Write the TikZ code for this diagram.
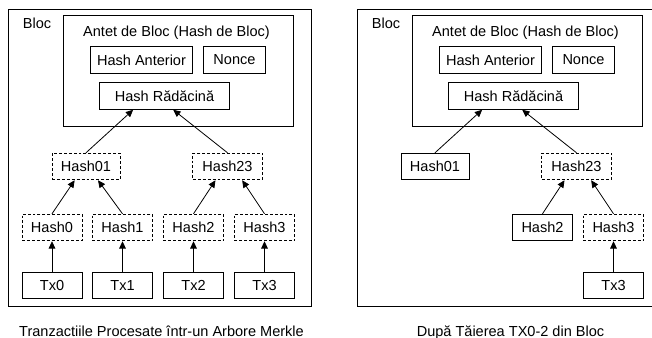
\documentclass[tikz,border=0pt]{standalone}
\usepackage{fontspec}
\setmainfont{Liberation Sans}
\usetikzlibrary{arrows.meta}

\tikzset{
    box/.style={draw,minimum height=20pt,inner sep=0pt,line width=0.6pt},
    dbox/.style={box,dash pattern=on 2.2pt off 1.5pt},
    txt/.style={inner sep=0pt},
    link/.style={-{Triangle[length=5.5pt,width=5pt]},line width=0.6pt}
}

\begin{document}
\begin{tikzpicture}[x=0.75pt,y=-0.75pt,font=\fontsize{10.9}{13}\selectfont]
    \clip (0,0) rectangle (652,337);
    % left: block with the whole Merkle tree
    \node[box,minimum width=227.25pt,minimum height=222.75pt] (blocA) at (159.5,157.5) {};
    \node[txt,anchor=west] (lblA) at (22.7,23.5) {Bloc};
    \node[box,minimum width=172.5pt,minimum height=83.25pt] (antetA) at (178,70.5) {};
    \node[txt] (titluA) at (176.5,33) {Antet de Bloc (Hash de Bloc)};
    \node[box,minimum width=77pt] (antA) at (141.5,60) {Hash Anterior};
    \node[box,minimum width=46pt] (nonceA) at (234.5,60) {Nonce};
    \node[box,minimum width=98pt] (radA) at (164.5,96) {Hash Rădăcină};
    \node[dbox,minimum width=51pt] (h01A) at (86,166.5) {Hash01};
    \node[dbox,minimum width=52pt] (h23A) at (227.5,166.5) {Hash23};
    \foreach \i/\x in {0/52,1/122.5,2/193.5,3/264.5} {
        \node[dbox,minimum width=45pt] (hA\i) at (\x,227.5) {Hash\i};
        \node[box,minimum width=45pt] (txA\i) at (\x,285.5) {Tx\i};
        \draw[link] (txA\i) -- (hA\i); % tx -> its hash
    }
    \draw[link] (h01A.north) -- ([xshift=-23.5pt]radA.south);
    \draw[link] (h23A.north) -- ([xshift=6.5pt]radA.south);
    \draw[link] (hA0.north) -- ([xshift=-8.5pt]h01A.south);
    \draw[link] (hA1.north) -- ([xshift=9pt]h01A.south);
    \draw[link] (hA2.north) -- ([xshift=-9pt]h23A.south);
    \draw[link] (hA3.north) -- ([xshift=11pt]h23A.south);
    \node[txt,anchor=base] (capA) at (161.5,336) {Tranzactiile Procesate într-un Arbore Merkle};

    % right: block after pruning
    \begin{scope}[shift={(349,0)}]
        \node[box,minimum width=227.25pt,minimum height=222.75pt] (blocB) at (160,157.5) {};
        \node[txt,anchor=west] (lblB) at (22.7,23.5) {Bloc};
        \node[box,minimum width=172.5pt,minimum height=83.25pt] (antetB) at (178,70.5) {};
        \node[txt] (titluB) at (176.5,33) {Antet de Bloc (Hash de Bloc)};
        \node[box,minimum width=77pt] (antB) at (141.5,60) {Hash Anterior};
        \node[box,minimum width=46pt] (nonceB) at (234.5,60) {Nonce};
        \node[box,minimum width=98pt] (radB) at (164.5,96) {Hash Rădăcină};
        \node[box,minimum width=51pt] (h01B) at (86,166.5) {Hash01};
        \node[dbox,minimum width=52pt] (h23B) at (227.5,166.5) {Hash23};
        \node[box,minimum width=45pt] (hB2) at (193.5,227.5) {Hash2};
        \node[dbox,minimum width=45pt] (hB3) at (264.5,227.5) {Hash3};
        \node[box,minimum width=45pt] (txB3) at (264.5,285.5) {Tx3};
        \draw[link] (txB3) -- (hB3);
        \draw[link] (h01B.north) -- ([xshift=-23.5pt]radB.south);
        \draw[link] (h23B.north) -- ([xshift=6.5pt]radB.south);
        \draw[link] (hB2.north) -- ([xshift=-9pt]h23B.south);
        \draw[link] (hB3.north) -- ([xshift=11pt]h23B.south);
        \node[txt,anchor=base] (capB) at (161.5,336) {După Tăierea TX0-2 din Bloc};
    \end{scope}
\end{tikzpicture}
\end{document}
